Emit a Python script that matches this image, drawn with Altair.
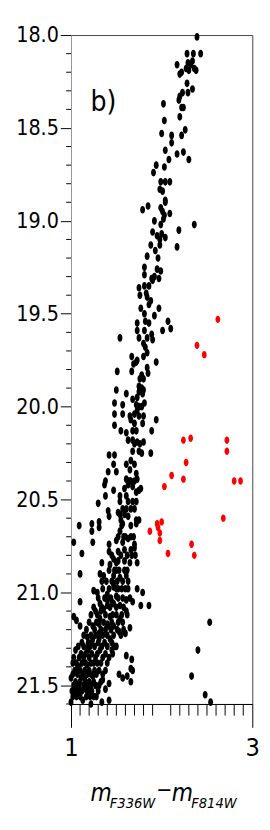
import altair as alt
import pandas as pd

FONT = "DejaVu Sans Condensed, DejaVu Sans, sans-serif"

# (colour m_F336W - m_F814W, magnitude)
black_top = [
    (2.39, 18.01), (2.28, 18.10), (2.35, 18.10), (2.43, 18.10), (2.17, 18.16), (2.20, 18.21),
    (2.22, 18.20), (2.27, 18.18), (2.29, 18.15), (2.32, 18.16), (2.34, 18.14), (2.36, 18.18),
    (2.38, 18.19), (2.30, 18.19), (2.28, 18.26), (2.23, 18.31), (2.29, 18.31), (2.34, 18.29),
    (2.20, 18.33), (2.19, 18.35), (2.02, 18.37), (2.22, 18.39), (2.24, 18.39), (2.20, 18.44),
    (2.03, 18.46), (2.00, 18.53), (2.11, 18.54), (2.22, 18.54), (2.26, 18.51),
    (2.11, 18.58), (2.04, 18.62), (2.17, 18.64), (2.24, 18.63), (2.30, 18.67), (2.08, 18.67),
    (1.94, 18.70), (2.03, 18.71), (1.91, 18.74), (1.99, 18.79), (2.04, 18.79), (2.09, 18.79),
    (1.98, 18.83), (2.01, 18.84), (2.04, 18.89), (2.04, 18.90), (1.85, 18.92), (1.79, 18.94),
    (1.99, 18.93), (2.01, 18.95), (2.03, 18.97), (2.09, 18.96), (1.92, 19.00), (1.99, 19.02),
    (2.02, 18.99), (2.36, 19.02), (2.19, 19.05), (1.90, 19.06), (1.95, 19.08), (2.00, 19.07),
    (2.04, 19.09), (1.98, 19.10),
]
black_upper_mid = [
    (1.98, 19.13), (1.88, 19.13), (2.17, 19.14), (1.93, 19.16), (1.84, 19.19), (1.96, 19.20),
    (1.81, 19.25), (1.81, 19.29), (1.95, 19.26), (1.99, 19.27), (1.89, 19.31), (1.92, 19.30),
    (1.97, 19.31), (1.90, 19.32), (1.75, 19.36), (1.81, 19.35), (1.86, 19.35), (1.83, 19.39),
    (1.76, 19.40), (1.84, 19.41), (1.88, 19.43), (1.86, 19.45), (1.97, 19.47), (1.77, 19.47),
    (1.81, 19.50), (1.92, 19.51), (1.82, 19.54), (1.73, 19.55), (1.86, 19.55), (2.07, 19.54),
    (2.10, 19.58), (2.01, 19.59), (1.73, 19.59), (1.81, 19.59), (1.89, 19.61), (1.54, 19.63),
    (1.84, 19.63), (1.90, 19.64),
    (1.75, 19.63), (1.80, 19.66), (1.82, 19.68), (1.84, 19.71), (1.67, 19.73), (1.73, 19.75),
    (1.80, 19.73), (1.72, 19.76), (1.94, 19.76), (1.69, 19.77), (1.51, 19.81), (1.67, 19.81),
    (1.78, 19.83), (1.84, 19.79), (1.85, 19.82), (1.75, 19.89), (1.78, 19.90), (1.75, 19.92),
    (1.80, 19.91), (1.50, 19.91), (1.61, 19.93), (1.73, 19.95), (1.79, 19.93), (1.68, 19.96),
    (1.48, 19.98), (1.57, 19.99), (1.81, 19.98), (1.72, 19.99), (1.73, 20.02), (1.70, 20.04),
    (1.48, 20.04), (1.57, 20.04), (1.65, 20.05), (1.75, 20.05), (1.80, 20.05), (1.48, 20.10),
    (1.66, 20.07), (1.70, 20.09), (1.79, 20.09), (1.94, 20.07), (1.89, 20.13), (1.55, 20.13),
    (1.61, 20.14), (1.68, 20.13), (1.72, 20.13), (1.63, 20.18), (1.68, 20.18), (1.73, 20.19),
    (1.80, 20.19),
]
black_lower_mid = [
    (1.68, 20.24), (1.75, 20.24), (1.78, 20.25), (1.88, 20.25), (1.42, 20.26), (1.48, 20.26),
    (1.47, 20.31), (1.66, 20.29), (1.70, 20.31), (1.61, 20.31), (1.41, 20.35), (1.50, 20.35),
    (1.65, 20.34), (1.72, 20.36), (1.38, 20.40), (1.61, 20.39), (1.65, 20.40), (1.73, 20.39),
    (1.37, 20.42), (1.63, 20.42), (1.68, 20.43), (1.47, 20.45), (1.59, 20.44), (1.75, 20.45),
    (1.77, 20.44), (1.38, 20.48), (1.54, 20.48), (1.61, 20.48), (1.72, 20.46), (1.54, 20.51),
    (1.63, 20.51), (1.68, 20.51), (1.72, 20.51), (1.30, 20.52), (1.41, 20.56), (1.42, 20.59),
    (1.52, 20.57), (1.54, 20.58), (1.59, 20.58), (1.63, 20.59), (1.55, 20.61), (1.57, 20.63),
    (1.72, 20.61), (1.75, 20.61), (1.09, 20.64), (1.23, 20.63), (1.23, 20.67), (1.31, 20.62),
    (1.31, 20.65), (1.56, 20.64), (1.54, 20.67), (1.66, 20.64), (1.72, 20.63), (1.03, 20.73),
    (1.24, 20.73), (1.42, 20.74), (1.50, 20.72), (1.57, 20.73), (1.63, 20.71), (1.70, 20.74),
    (1.66, 20.70),
    (1.12, 20.79), (1.42, 20.78), (1.52, 20.78), (1.59, 20.77), (1.66, 20.77), (1.70, 20.76),
    (1.71, 20.80), (1.47, 20.82), (1.52, 20.83), (1.59, 20.83), (1.65, 20.84), (1.73, 20.84),
    (1.34, 20.84), (1.43, 20.85), (1.10, 20.90), (1.32, 20.90), (1.36, 20.91), (1.34, 20.94),
    (1.47, 20.91), (1.50, 20.88), (1.54, 20.92), (1.61, 20.91), (1.59, 20.88), (1.25, 20.99),
    (1.29, 21.00), (1.40, 21.01), (1.47, 20.97), (1.52, 20.98), (1.63, 20.98), (1.73, 20.98),
    (1.79, 21.00), (1.45, 21.05), (1.50, 21.02), (1.61, 21.04), (1.68, 21.05), (1.10, 21.05),
    (1.32, 21.06), (1.40, 21.07), (1.47, 21.06), (1.54, 21.07), (1.77, 21.07), (1.86, 21.07),
    (1.27, 21.10), (1.36, 21.09), (1.61, 21.10), (1.03, 21.13), (1.06, 21.15), (1.32, 21.14),
    (1.43, 21.13), (1.50, 21.12), (1.54, 21.14), (1.10, 21.18), (1.24, 21.18), (1.31, 21.17),
    (1.40, 21.17), (1.47, 21.18), (2.53, 21.16),
]
black_bottom = [
    (1.65, 21.19), (1.60, 21.22), (1.53, 21.21), (1.18, 21.24), (1.31, 21.25), (1.43, 21.25),
    (1.48, 21.29), (1.05, 21.31), (1.18, 21.30), (1.32, 21.31), (1.45, 21.31), (1.61, 21.34),
    (1.67, 21.36), (1.66, 21.41), (1.68, 21.42), (1.53, 21.44), (1.57, 21.46), (1.62, 21.45),
    (1.66, 21.48), (1.35, 21.47), (1.42, 21.49), (1.38, 21.52), (1.42, 21.58), (1.34, 21.59),
    (1.02, 21.38), (1.07, 21.41), (1.18, 21.39), (1.29, 21.38), (1.00, 21.46), (1.11, 21.46),
    (1.24, 21.45), (1.04, 21.52), (1.16, 21.52), (1.25, 21.56), (1.13, 21.58), (1.22, 21.60),
    (1.00, 21.59), (2.40, 21.31), (2.33, 21.45), (2.48, 21.55), (2.54, 21.59),
]
black_dense = [
    (1.02, 21.56), (1.06, 21.56), (1.10, 21.56), (1.17, 21.56), (1.21, 21.56), (1.28, 21.56),
    (1.01, 21.53), (1.08, 21.53), (1.12, 21.53), (1.19, 21.53), (1.23, 21.53), (1.30, 21.53),
    (1.03, 21.50), (1.07, 21.50), (1.14, 21.50), (1.18, 21.50), (1.22, 21.50), (1.27, 21.50),
    (1.31, 21.50), (1.05, 21.48), (1.10, 21.48), (1.16, 21.48), (1.20, 21.48), (1.25, 21.48),
    (1.33, 21.48), (1.02, 21.44), (1.07, 21.44), (1.13, 21.44), (1.18, 21.44), (1.22, 21.44),
    (1.28, 21.44), (1.35, 21.44), (1.04, 21.42), (1.10, 21.42), (1.15, 21.42), (1.20, 21.42),
    (1.26, 21.42), (1.31, 21.42), (1.38, 21.42), (1.06, 21.38), (1.12, 21.38), (1.16, 21.38),
    (1.22, 21.38), (1.25, 21.38), (1.33, 21.38), (1.40, 21.38), (1.03, 21.35), (1.09, 21.35),
    (1.14, 21.35), (1.20, 21.35), (1.27, 21.35), (1.35, 21.35), (1.42, 21.35), (1.11, 21.33),
    (1.16, 21.33), (1.23, 21.33), (1.29, 21.33), (1.38, 21.33), (1.46, 21.33), (1.08, 21.29),
    (1.14, 21.29), (1.21, 21.29), (1.26, 21.29), (1.34, 21.29), (1.40, 21.29), (1.50, 21.29),
    (1.12, 21.27), (1.19, 21.27), (1.23, 21.27), (1.30, 21.27), (1.37, 21.27), (1.45, 21.27),
    (1.14, 21.23), (1.22, 21.23), (1.27, 21.23), (1.35, 21.23), (1.40, 21.23), (1.47, 21.23),
    (1.55, 21.23), (1.17, 21.20), (1.26, 21.20), (1.33, 21.20), (1.38, 21.20), (1.44, 21.20),
    (1.51, 21.20), (1.58, 21.20), (1.20, 21.16), (1.28, 21.16), (1.36, 21.16), (1.45, 21.16),
    (1.52, 21.16), (1.57, 21.16), (1.22, 21.12), (1.29, 21.12), (1.38, 21.12), (1.46, 21.12),
    (1.56, 21.12), (1.62, 21.12), (1.25, 21.08), (1.34, 21.08), (1.43, 21.08), (1.50, 21.08),
    (1.58, 21.08), (1.30, 21.03), (1.37, 21.03), (1.44, 21.03), (1.52, 21.03), (1.57, 21.03),
    (1.65, 21.03), (1.35, 20.98), (1.42, 20.98), (1.50, 20.98), (1.56, 20.98), (1.60, 20.98),
    (1.39, 20.94), (1.45, 20.94), (1.51, 20.94), (1.57, 20.94), (1.63, 20.94), (1.42, 20.88),
    (1.48, 20.88), (1.53, 20.88), (1.62, 20.88), (1.45, 20.80), (1.55, 20.80), (1.62, 20.80),
    (1.67, 20.80), (1.52, 20.70), (1.58, 20.70), (1.60, 20.70), (1.69, 20.70), (1.57, 20.55),
    (1.61, 20.55), (1.66, 20.55), (1.70, 20.55), (1.63, 20.40), (1.66, 20.40), (1.70, 20.40),
    (1.70, 20.20), (1.76, 20.20), (1.75, 20.00), (1.78, 20.00), (1.76, 19.85), (1.80, 19.85),
    (1.04, 21.54), (1.09, 21.51), (1.15, 21.46), (1.09, 21.40), (1.19, 21.31), (1.24, 21.25),
    (1.31, 21.22), (1.41, 21.18), (1.33, 21.10), (1.40, 21.04), (1.47, 20.95), (1.50, 20.84),
]
red_stars = [
    (2.62, 19.53), (2.39, 19.67), (2.47, 19.72), (2.24, 20.18), (2.32, 20.17), (2.72, 20.18),
    (2.72, 20.24), (2.27, 20.30), (2.11, 20.37), (2.24, 20.39), (2.03, 20.43), (2.80, 20.40),
    (2.87, 20.40), (2.00, 20.62), (1.95, 20.63), (1.96, 20.65), (1.87, 20.67), (1.98, 20.68),
    (1.98, 20.72), (2.68, 20.60), (2.33, 20.74), (2.07, 20.79), (2.36, 20.80),
]

x_major = [1, 2, 3]
x_minor = [1.1, 1.2, 1.3, 1.4, 1.5, 1.6, 1.7, 1.8, 1.9, 2.1, 2.2, 2.3, 2.4, 2.5, 2.6, 2.7, 2.8, 2.9]
y_major = [18.0, 18.5, 19.0, 19.5, 20.0, 20.5, 21.0, 21.5]
y_minor = [18.1, 18.2, 18.3, 18.4, 18.6, 18.7, 18.8, 18.9, 19.1, 19.2, 19.3, 19.4,
           19.6, 19.7, 19.8, 19.9, 20.1, 20.2, 20.3, 20.4, 20.6, 20.7, 20.8, 20.9,
           21.1, 21.2, 21.3, 21.4, 21.6]

W, H = 187, 690

black = black_top + black_upper_mid + black_lower_mid + black_bottom + black_dense
df_black = pd.DataFrame(black, columns=["color", "mag"])
df_red = pd.DataFrame(red_stars, columns=["color", "mag"])

xs = alt.Scale(domain=[1, 3], nice=False, zero=False)
ys = alt.Scale(domain=[18.0, 21.6], reverse=True, nice=False, zero=False)

ELL = ("M0,-1 C0.3535,-1 0.64,-0.5523 0.64,0 C0.64,0.5523 0.3535,1 0,1 "
       "C-0.3535,1 -0.64,0.5523 -0.64,0 C-0.64,-0.5523 -0.3535,-1 0,-1 Z")

xaxis = alt.Axis(values=x_major, format="d", tickSize=24, labelPadding=8, labelFontSize=26,
                 labelFont=FONT, labelColor="black", tickColor="black", domainColor="black",
                 grid=False, title=None, labelFlush=False)
yaxis = alt.Axis(values=y_major, format=".1f", tickSize=11, labelPadding=2, labelFontSize=22,
                 labelFont=FONT, labelColor="black", tickColor="black", domainColor="#9a9a9a",
                 grid=False, title=None, labelFlush=False)

pts_black = alt.Chart(df_black).mark_point(shape=ELL, filled=True, color="black", size=62, opacity=1).encode(
    x=alt.X("color:Q", scale=xs, axis=xaxis),
    y=alt.Y("mag:Q", scale=ys, axis=yaxis),
)
pts_red = alt.Chart(df_red).mark_point(shape=ELL, filled=True, color="#ff0000", size=58, opacity=1).encode(
    x=alt.X("color:Q", scale=xs),
    y=alt.Y("mag:Q", scale=ys),
)

ymin = alt.Chart(pd.DataFrame({"v": y_minor})).mark_rule(color="black", strokeWidth=1).encode(
    y=alt.Y("v:Q", scale=ys), x=alt.value(-5), x2=alt.value(0)
)
xmin = alt.Chart(pd.DataFrame({"v": x_minor})).mark_rule(color="black", strokeWidth=1).encode(
    x=alt.X("v:Q", scale=xs), y=alt.value(H), y2=alt.value(H + 12)
)

one = pd.DataFrame({"k": [0]})
label_b = alt.Chart(one).mark_text(text="b)", font=FONT, fontSize=29, align="left",
                                   baseline="alphabetic", color="black").encode(
    x=alt.value(20), y=alt.value(78))


def piece(txt, px, py, size, italic=True):
    kw = dict(text=txt, font=FONT, fontSize=size, align="left", baseline="alphabetic", color="black")
    if italic:
        kw["fontStyle"] = "italic"
    return alt.Chart(one).mark_text(**kw).encode(x=alt.value(px), y=alt.value(py))


title = [
    piece("m", 20, 790, 25),
    piece("F336W", 40, 797, 15),
    piece("\u2212", 88, 786, 22, italic=False),
    piece("m", 104, 790, 25),
    piece("F814W", 124, 797, 15),
]

chart = alt.layer(pts_black, pts_red, ymin, xmin, label_b, *title).properties(
    width=W, height=H,
    autosize=alt.AutoSizeParams(type="none"),
    padding={"left": 65, "top": 15, "right": 10, "bottom": 115},
).configure_view(stroke="#444444", strokeWidth=1)

chart.save("out.html", embed_options={"renderer": "svg", "actions": False})
